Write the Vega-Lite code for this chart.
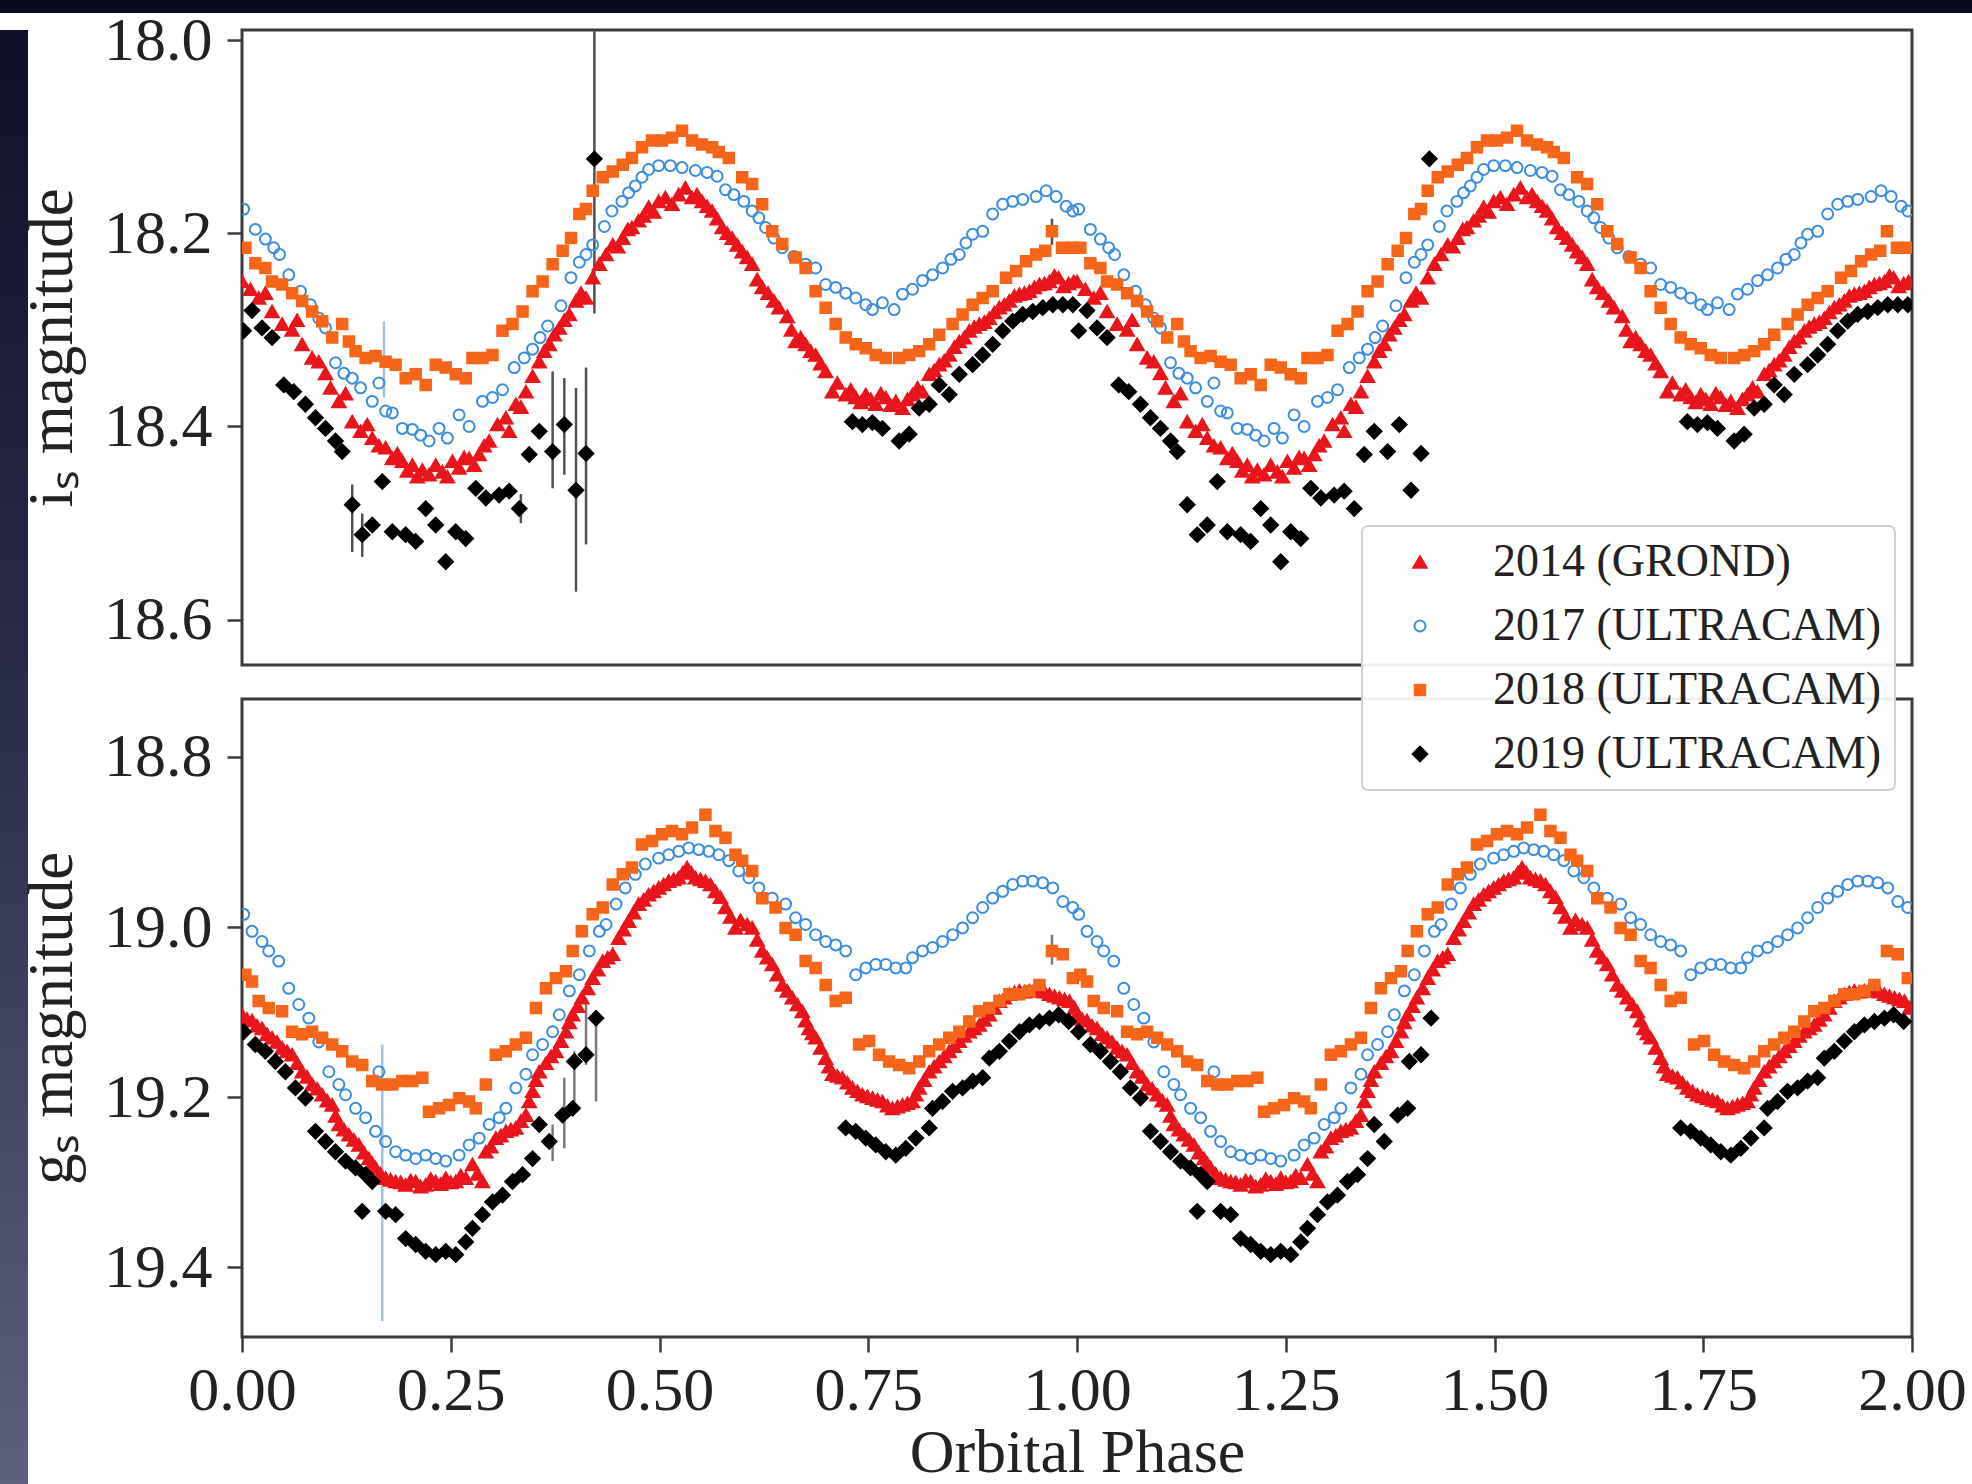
{
"$schema":"https://vega.github.io/schema/vega-lite/v6.json",
"background":"white",
"padding":0,
"spacing":0,
"config":{
 "font":"Liberation Serif",
 "view":{"stroke":"#3a3a3a","strokeWidth":3},
 "axis":{"labelFont":"Liberation Serif","titleFont":"Liberation Serif","labelFontSize":62,"titleFontSize":63,"labelColor":"#222222","titleColor":"#222222","titleFontWeight":"normal","domain":false,"grid":false,"tickColor":"#3a3a3a","tickWidth":2.5,"tickSize":15,"labelFlush":false,"labelOverlap":false},
 "legend":{"orient":"none","legendX":1362,"legendY":526,"labelFont":"Liberation Serif","labelFontSize":46,"labelColor":"#222222","labelLimit":600,"fillColor":"rgba(255,255,255,0.92)","strokeColor":"#cfcfcf","strokeWidth":2,"cornerRadius":6,"padding":13,"rowPadding":18,"symbolOffset":22,"labelOffset":50,"symbolStrokeWidth":2,"zindex":1}
},
"datasets":{
"ie":[{"s":"19","p":0.422,"lo":17.96,"hi":18.283},{"s":"19","p":0.372,"lo":18.343,"hi":18.464},{"s":"19","p":0.386,"lo":18.35,"hi":18.45},{"s":"19","p":0.4,"lo":18.36,"hi":18.571},{"s":"19","p":0.412,"lo":18.339,"hi":18.522},{"s":"19","p":0.132,"lo":18.46,"hi":18.53},{"s":"19","p":0.144,"lo":18.49,"hi":18.535},{"s":"19","p":0.334,"lo":18.47,"hi":18.5},{"s":"17","p":0.17,"lo":18.291,"hi":18.37},{"s":"18","p":0.97,"lo":18.185,"hi":18.212}],
"ge":[{"s":"17","p":0.168,"lo":19.138,"hi":19.463},{"s":"19","p":0.372,"lo":19.232,"hi":19.275},{"s":"19","p":0.386,"lo":19.177,"hi":19.26},{"s":"19","p":0.398,"lo":19.146,"hi":19.213},{"s":"19","p":0.412,"lo":19.083,"hi":19.162},{"s":"19","p":0.424,"lo":19.107,"hi":19.205},{"s":"18","p":0.97,"lo":19.009,"hi":19.044}],
"i":[
{"s":"14","p":0,"m":18.25},{"s":"14","p":0.01,"m":18.258},{"s":"14","p":0.02,"m":18.267},{"s":"14","p":0.028,"m":18.262},{"s":"14","p":0.036,"m":18.281},{"s":"14","p":0.048,"m":18.294},{"s":"14","p":0.06,"m":18.3},{"s":"14","p":0.066,"m":18.29},{"s":"14","p":0.072,"m":18.315},{"s":"14","p":0.084,"m":18.329},{"s":"14","p":0.092,"m":18.333},{"s":"14","p":0.1,"m":18.345},{"s":"14","p":0.106,"m":18.36},{"s":"14","p":0.116,"m":18.374},{"s":"14","p":0.124,"m":18.366},{"s":"14","p":0.132,"m":18.395},{"s":"14","p":0.142,"m":18.405},{"s":"14","p":0.15,"m":18.398},{"s":"14","p":0.156,"m":18.412},{"s":"14","p":0.164,"m":18.42},{"s":"14","p":0.172,"m":18.422},{"s":"14","p":0.18,"m":18.433},{"s":"14","p":0.186,"m":18.428},{"s":"14","p":0.192,"m":18.436},{"s":"14","p":0.198,"m":18.446},{"s":"14","p":0.204,"m":18.44},{"s":"14","p":0.21,"m":18.452},{"s":"14","p":0.216,"m":18.445},{"s":"14","p":0.224,"m":18.45},{"s":"14","p":0.232,"m":18.44},{"s":"14","p":0.24,"m":18.447},{"s":"14","p":0.246,"m":18.452},{"s":"14","p":0.252,"m":18.436},{"s":"14","p":0.26,"m":18.443},{"s":"14","p":0.266,"m":18.432},{"s":"14","p":0.272,"m":18.433},{"s":"14","p":0.278,"m":18.44},{"s":"14","p":0.284,"m":18.429},{"s":"14","p":0.29,"m":18.42},{"s":"14","p":0.296,"m":18.415},{"s":"14","p":0.306,"m":18.398},{"s":"14","p":0.316,"m":18.391},{"s":"14","p":0.32,"m":18.405},{"s":"14","p":0.328,"m":18.377},{"s":"14","p":0.334,"m":18.38},{"s":"14","p":0.34,"m":18.364},{"s":"14","p":0.348,"m":18.348},{"s":"14","p":0.356,"m":18.333},{"s":"14","p":0.362,"m":18.322},{"s":"14","p":0.368,"m":18.315},{"s":"14","p":0.374,"m":18.305},{"s":"14","p":0.38,"m":18.298},{"s":"14","p":0.386,"m":18.29},{"s":"14","p":0.392,"m":18.284},{"s":"14","p":0.4,"m":18.27},{"s":"14","p":0.406,"m":18.262},{"s":"14","p":0.412,"m":18.267},{"s":"14","p":0.42,"m":18.246},{"s":"14","p":0.428,"m":18.232},{"s":"14","p":0.436,"m":18.222},{"s":"14","p":0.444,"m":18.212},{"s":"14","p":0.45,"m":18.214},{"s":"14","p":0.456,"m":18.205},{"s":"14","p":0.462,"m":18.196},{"s":"14","p":0.467,"m":18.194},{"s":"14","p":0.475,"m":18.187},{"s":"14","p":0.481,"m":18.182},{"s":"14","p":0.487,"m":18.173},{"s":"14","p":0.493,"m":18.178},{"s":"14","p":0.499,"m":18.167},{"s":"14","p":0.507,"m":18.163},{"s":"14","p":0.515,"m":18.17},{"s":"14","p":0.523,"m":18.16},{"s":"14","p":0.531,"m":18.153},{"s":"14","p":0.539,"m":18.163},{"s":"14","p":0.545,"m":18.16},{"s":"14","p":0.551,"m":18.167},{"s":"14","p":0.557,"m":18.172},{"s":"14","p":0.563,"m":18.177},{"s":"14","p":0.569,"m":18.185},{"s":"14","p":0.575,"m":18.194},{"s":"14","p":0.581,"m":18.2},{"s":"14","p":0.587,"m":18.205},{"s":"14","p":0.593,"m":18.212},{"s":"14","p":0.599,"m":18.219},{"s":"14","p":0.605,"m":18.225},{"s":"14","p":0.611,"m":18.232},{"s":"14","p":0.617,"m":18.248},{"s":"14","p":0.623,"m":18.256},{"s":"14","p":0.63,"m":18.262},{"s":"14","p":0.637,"m":18.27},{"s":"14","p":0.643,"m":18.277},{"s":"14","p":0.653,"m":18.286},{"s":"14","p":0.658,"m":18.3},{"s":"14","p":0.663,"m":18.312},{"s":"14","p":0.669,"m":18.308},{"s":"14","p":0.675,"m":18.315},{"s":"14","p":0.681,"m":18.322},{"s":"14","p":0.687,"m":18.326},{"s":"14","p":0.693,"m":18.335},{"s":"14","p":0.699,"m":18.343},{"s":"14","p":0.707,"m":18.364},{"s":"14","p":0.713,"m":18.355},{"s":"14","p":0.723,"m":18.367},{"s":"14","p":0.729,"m":18.362},{"s":"14","p":0.735,"m":18.37},{"s":"14","p":0.741,"m":18.375},{"s":"14","p":0.747,"m":18.367},{"s":"14","p":0.753,"m":18.372},{"s":"14","p":0.759,"m":18.377},{"s":"14","p":0.765,"m":18.366},{"s":"14","p":0.771,"m":18.37},{"s":"14","p":0.777,"m":18.378},{"s":"14","p":0.783,"m":18.374},{"s":"14","p":0.791,"m":18.381},{"s":"14","p":0.797,"m":18.372},{"s":"14","p":0.803,"m":18.367},{"s":"14","p":0.809,"m":18.36},{"s":"14","p":0.815,"m":18.364},{"s":"14","p":0.823,"m":18.346},{"s":"14","p":0.829,"m":18.342},{"s":"14","p":0.835,"m":18.336},{"s":"14","p":0.841,"m":18.332},{"s":"14","p":0.847,"m":18.326},{"s":"14","p":0.853,"m":18.318},{"s":"14","p":0.859,"m":18.312},{"s":"14","p":0.865,"m":18.308},{"s":"14","p":0.871,"m":18.301},{"s":"14","p":0.877,"m":18.297},{"s":"14","p":0.883,"m":18.294},{"s":"14","p":0.889,"m":18.292},{"s":"14","p":0.895,"m":18.288},{"s":"14","p":0.901,"m":18.282},{"s":"14","p":0.907,"m":18.277},{"s":"14","p":0.913,"m":18.274},{"s":"14","p":0.919,"m":18.27},{"s":"14","p":0.925,"m":18.265},{"s":"14","p":0.931,"m":18.263},{"s":"14","p":0.937,"m":18.262},{"s":"14","p":0.943,"m":18.26},{"s":"14","p":0.949,"m":18.256},{"s":"14","p":0.955,"m":18.253},{"s":"14","p":0.961,"m":18.252},{"s":"14","p":0.967,"m":18.25},{"s":"14","p":0.973,"m":18.244},{"s":"14","p":0.978,"m":18.246},{"s":"14","p":0.984,"m":18.255},{"s":"14","p":0.99,"m":18.252},{"s":"14","p":0.996,"m":18.25},
{"s":"14","p":1,"m":18.25},{"s":"14","p":1.01,"m":18.258},{"s":"14","p":1.02,"m":18.267},{"s":"14","p":1.028,"m":18.262},{"s":"14","p":1.036,"m":18.281},{"s":"14","p":1.048,"m":18.294},{"s":"14","p":1.06,"m":18.3},{"s":"14","p":1.066,"m":18.29},{"s":"14","p":1.072,"m":18.315},{"s":"14","p":1.084,"m":18.329},{"s":"14","p":1.092,"m":18.333},{"s":"14","p":1.1,"m":18.345},{"s":"14","p":1.106,"m":18.36},{"s":"14","p":1.116,"m":18.374},{"s":"14","p":1.124,"m":18.366},{"s":"14","p":1.132,"m":18.395},{"s":"14","p":1.142,"m":18.405},{"s":"14","p":1.15,"m":18.398},{"s":"14","p":1.156,"m":18.412},{"s":"14","p":1.164,"m":18.42},{"s":"14","p":1.172,"m":18.422},{"s":"14","p":1.18,"m":18.433},{"s":"14","p":1.186,"m":18.428},{"s":"14","p":1.192,"m":18.436},{"s":"14","p":1.198,"m":18.446},{"s":"14","p":1.204,"m":18.44},{"s":"14","p":1.21,"m":18.452},{"s":"14","p":1.216,"m":18.445},{"s":"14","p":1.224,"m":18.45},{"s":"14","p":1.232,"m":18.44},{"s":"14","p":1.24,"m":18.447},{"s":"14","p":1.246,"m":18.452},{"s":"14","p":1.252,"m":18.436},{"s":"14","p":1.26,"m":18.443},{"s":"14","p":1.266,"m":18.432},{"s":"14","p":1.272,"m":18.433},{"s":"14","p":1.278,"m":18.44},{"s":"14","p":1.284,"m":18.429},{"s":"14","p":1.29,"m":18.42},{"s":"14","p":1.296,"m":18.415},{"s":"14","p":1.306,"m":18.398},{"s":"14","p":1.316,"m":18.391},{"s":"14","p":1.32,"m":18.405},{"s":"14","p":1.328,"m":18.377},{"s":"14","p":1.334,"m":18.38},{"s":"14","p":1.34,"m":18.364},{"s":"14","p":1.348,"m":18.348},{"s":"14","p":1.356,"m":18.333},{"s":"14","p":1.362,"m":18.322},{"s":"14","p":1.368,"m":18.315},{"s":"14","p":1.374,"m":18.305},{"s":"14","p":1.38,"m":18.298},{"s":"14","p":1.386,"m":18.29},{"s":"14","p":1.392,"m":18.284},{"s":"14","p":1.4,"m":18.27},{"s":"14","p":1.406,"m":18.262},{"s":"14","p":1.412,"m":18.267},{"s":"14","p":1.42,"m":18.246},{"s":"14","p":1.428,"m":18.232},{"s":"14","p":1.436,"m":18.222},{"s":"14","p":1.444,"m":18.212},{"s":"14","p":1.45,"m":18.214},{"s":"14","p":1.456,"m":18.205},{"s":"14","p":1.462,"m":18.196},{"s":"14","p":1.467,"m":18.194},{"s":"14","p":1.475,"m":18.187},{"s":"14","p":1.481,"m":18.182},{"s":"14","p":1.487,"m":18.173},{"s":"14","p":1.493,"m":18.178},{"s":"14","p":1.499,"m":18.167},{"s":"14","p":1.507,"m":18.163},{"s":"14","p":1.515,"m":18.17},{"s":"14","p":1.523,"m":18.16},{"s":"14","p":1.531,"m":18.153},{"s":"14","p":1.539,"m":18.163},{"s":"14","p":1.545,"m":18.16},{"s":"14","p":1.551,"m":18.167},{"s":"14","p":1.557,"m":18.172},{"s":"14","p":1.563,"m":18.177},{"s":"14","p":1.569,"m":18.185},{"s":"14","p":1.575,"m":18.194},{"s":"14","p":1.581,"m":18.2},{"s":"14","p":1.587,"m":18.205},{"s":"14","p":1.593,"m":18.212},{"s":"14","p":1.599,"m":18.219},{"s":"14","p":1.605,"m":18.225},{"s":"14","p":1.611,"m":18.232},{"s":"14","p":1.617,"m":18.248},{"s":"14","p":1.623,"m":18.256},{"s":"14","p":1.63,"m":18.262},{"s":"14","p":1.637,"m":18.27},{"s":"14","p":1.643,"m":18.277},{"s":"14","p":1.653,"m":18.286},{"s":"14","p":1.658,"m":18.3},{"s":"14","p":1.663,"m":18.312},{"s":"14","p":1.669,"m":18.308},{"s":"14","p":1.675,"m":18.315},{"s":"14","p":1.681,"m":18.322},{"s":"14","p":1.687,"m":18.326},{"s":"14","p":1.693,"m":18.335},{"s":"14","p":1.699,"m":18.343},{"s":"14","p":1.707,"m":18.364},{"s":"14","p":1.713,"m":18.355},{"s":"14","p":1.723,"m":18.367},{"s":"14","p":1.729,"m":18.362},{"s":"14","p":1.735,"m":18.37},{"s":"14","p":1.741,"m":18.375},{"s":"14","p":1.747,"m":18.367},{"s":"14","p":1.753,"m":18.372},{"s":"14","p":1.759,"m":18.377},{"s":"14","p":1.765,"m":18.366},{"s":"14","p":1.771,"m":18.37},{"s":"14","p":1.777,"m":18.378},{"s":"14","p":1.783,"m":18.374},{"s":"14","p":1.791,"m":18.381},{"s":"14","p":1.797,"m":18.372},{"s":"14","p":1.803,"m":18.367},{"s":"14","p":1.809,"m":18.36},{"s":"14","p":1.815,"m":18.364},{"s":"14","p":1.823,"m":18.346},{"s":"14","p":1.829,"m":18.342},{"s":"14","p":1.835,"m":18.336},{"s":"14","p":1.841,"m":18.332},{"s":"14","p":1.847,"m":18.326},{"s":"14","p":1.853,"m":18.318},{"s":"14","p":1.859,"m":18.312},{"s":"14","p":1.865,"m":18.308},{"s":"14","p":1.871,"m":18.301},{"s":"14","p":1.877,"m":18.297},{"s":"14","p":1.883,"m":18.294},{"s":"14","p":1.889,"m":18.292},{"s":"14","p":1.895,"m":18.288},{"s":"14","p":1.901,"m":18.282},{"s":"14","p":1.907,"m":18.277},{"s":"14","p":1.913,"m":18.274},{"s":"14","p":1.919,"m":18.27},{"s":"14","p":1.925,"m":18.265},{"s":"14","p":1.931,"m":18.263},{"s":"14","p":1.937,"m":18.262},{"s":"14","p":1.943,"m":18.26},{"s":"14","p":1.949,"m":18.256},{"s":"14","p":1.955,"m":18.253},{"s":"14","p":1.961,"m":18.252},{"s":"14","p":1.967,"m":18.25},{"s":"14","p":1.973,"m":18.244},{"s":"14","p":1.978,"m":18.246},{"s":"14","p":1.984,"m":18.255},{"s":"14","p":1.99,"m":18.252},{"s":"14","p":1.996,"m":18.25},
{"s":"17","p":0.002,"m":18.175},{"s":"17","p":0.016,"m":18.196},{"s":"17","p":0.028,"m":18.206},{"s":"17","p":0.038,"m":18.215},{"s":"17","p":0.045,"m":18.222},{"s":"17","p":0.056,"m":18.243},{"s":"17","p":0.07,"m":18.26},{"s":"17","p":0.082,"m":18.274},{"s":"17","p":0.092,"m":18.288},{"s":"17","p":0.1,"m":18.298},{"s":"17","p":0.112,"m":18.334},{"s":"17","p":0.122,"m":18.345},{"s":"17","p":0.132,"m":18.35},{"s":"17","p":0.142,"m":18.36},{"s":"17","p":0.156,"m":18.374},{"s":"17","p":0.164,"m":18.355},{"s":"17","p":0.172,"m":18.384},{"s":"17","p":0.18,"m":18.386},{"s":"17","p":0.192,"m":18.402},{"s":"17","p":0.204,"m":18.403},{"s":"17","p":0.214,"m":18.409},{"s":"17","p":0.224,"m":18.415},{"s":"17","p":0.236,"m":18.402},{"s":"17","p":0.246,"m":18.412},{"s":"17","p":0.26,"m":18.388},{"s":"17","p":0.272,"m":18.4},{"s":"17","p":0.288,"m":18.374},{"s":"17","p":0.3,"m":18.37},{"s":"17","p":0.312,"m":18.362},{"s":"17","p":0.326,"m":18.339},{"s":"17","p":0.338,"m":18.329},{"s":"17","p":0.348,"m":18.32},{"s":"17","p":0.357,"m":18.308},{"s":"17","p":0.366,"m":18.296},{"s":"17","p":0.382,"m":18.275},{"s":"17","p":0.394,"m":18.246},{"s":"17","p":0.404,"m":18.23},{"s":"17","p":0.412,"m":18.222},{"s":"17","p":0.42,"m":18.212},{"s":"17","p":0.434,"m":18.193},{"s":"17","p":0.443,"m":18.177},{"s":"17","p":0.455,"m":18.167},{"s":"17","p":0.463,"m":18.158},{"s":"17","p":0.471,"m":18.151},{"s":"17","p":0.479,"m":18.142},{"s":"17","p":0.487,"m":18.134},{"s":"17","p":0.499,"m":18.13},{"s":"17","p":0.513,"m":18.13},{"s":"17","p":0.527,"m":18.132},{"s":"17","p":0.543,"m":18.135},{"s":"17","p":0.557,"m":18.137},{"s":"17","p":0.569,"m":18.141},{"s":"17","p":0.579,"m":18.155},{"s":"17","p":0.589,"m":18.16},{"s":"17","p":0.601,"m":18.167},{"s":"17","p":0.611,"m":18.177},{"s":"17","p":0.619,"m":18.184},{"s":"17","p":0.627,"m":18.194},{"s":"17","p":0.637,"m":18.205},{"s":"17","p":0.647,"m":18.215},{"s":"17","p":0.661,"m":18.224},{"s":"17","p":0.675,"m":18.232},{"s":"17","p":0.687,"m":18.236},{"s":"17","p":0.699,"m":18.253},{"s":"17","p":0.711,"m":18.256},{"s":"17","p":0.723,"m":18.262},{"s":"17","p":0.735,"m":18.267},{"s":"17","p":0.747,"m":18.274},{"s":"17","p":0.755,"m":18.279},{"s":"17","p":0.767,"m":18.272},{"s":"17","p":0.781,"m":18.279},{"s":"17","p":0.791,"m":18.263},{"s":"17","p":0.803,"m":18.258},{"s":"17","p":0.815,"m":18.249},{"s":"17","p":0.827,"m":18.243},{"s":"17","p":0.839,"m":18.236},{"s":"17","p":0.849,"m":18.227},{"s":"17","p":0.859,"m":18.222},{"s":"17","p":0.867,"m":18.21},{"s":"17","p":0.875,"m":18.201},{"s":"17","p":0.887,"m":18.198},{"s":"17","p":0.899,"m":18.18},{"s":"17","p":0.911,"m":18.17},{"s":"17","p":0.923,"m":18.167},{"s":"17","p":0.935,"m":18.165},{"s":"17","p":0.951,"m":18.162},{"s":"17","p":0.963,"m":18.156},{"s":"17","p":0.975,"m":18.162},{"s":"17","p":0.987,"m":18.172},{"s":"17","p":0.995,"m":18.177},
{"s":"17","p":1.002,"m":18.175},{"s":"17","p":1.016,"m":18.196},{"s":"17","p":1.028,"m":18.206},{"s":"17","p":1.038,"m":18.215},{"s":"17","p":1.045,"m":18.222},{"s":"17","p":1.056,"m":18.243},{"s":"17","p":1.07,"m":18.26},{"s":"17","p":1.082,"m":18.274},{"s":"17","p":1.092,"m":18.288},{"s":"17","p":1.1,"m":18.298},{"s":"17","p":1.112,"m":18.334},{"s":"17","p":1.122,"m":18.345},{"s":"17","p":1.132,"m":18.35},{"s":"17","p":1.142,"m":18.36},{"s":"17","p":1.156,"m":18.374},{"s":"17","p":1.164,"m":18.355},{"s":"17","p":1.172,"m":18.384},{"s":"17","p":1.18,"m":18.386},{"s":"17","p":1.192,"m":18.402},{"s":"17","p":1.204,"m":18.403},{"s":"17","p":1.214,"m":18.409},{"s":"17","p":1.224,"m":18.415},{"s":"17","p":1.236,"m":18.402},{"s":"17","p":1.246,"m":18.412},{"s":"17","p":1.26,"m":18.388},{"s":"17","p":1.272,"m":18.4},{"s":"17","p":1.288,"m":18.374},{"s":"17","p":1.3,"m":18.37},{"s":"17","p":1.312,"m":18.362},{"s":"17","p":1.326,"m":18.339},{"s":"17","p":1.338,"m":18.329},{"s":"17","p":1.348,"m":18.32},{"s":"17","p":1.357,"m":18.308},{"s":"17","p":1.366,"m":18.296},{"s":"17","p":1.382,"m":18.275},{"s":"17","p":1.394,"m":18.246},{"s":"17","p":1.404,"m":18.23},{"s":"17","p":1.412,"m":18.222},{"s":"17","p":1.42,"m":18.212},{"s":"17","p":1.434,"m":18.193},{"s":"17","p":1.443,"m":18.177},{"s":"17","p":1.455,"m":18.167},{"s":"17","p":1.463,"m":18.158},{"s":"17","p":1.471,"m":18.151},{"s":"17","p":1.479,"m":18.142},{"s":"17","p":1.487,"m":18.134},{"s":"17","p":1.499,"m":18.13},{"s":"17","p":1.513,"m":18.13},{"s":"17","p":1.527,"m":18.132},{"s":"17","p":1.543,"m":18.135},{"s":"17","p":1.557,"m":18.137},{"s":"17","p":1.569,"m":18.141},{"s":"17","p":1.579,"m":18.155},{"s":"17","p":1.589,"m":18.16},{"s":"17","p":1.601,"m":18.167},{"s":"17","p":1.611,"m":18.177},{"s":"17","p":1.619,"m":18.184},{"s":"17","p":1.627,"m":18.194},{"s":"17","p":1.637,"m":18.205},{"s":"17","p":1.647,"m":18.215},{"s":"17","p":1.661,"m":18.224},{"s":"17","p":1.675,"m":18.232},{"s":"17","p":1.687,"m":18.236},{"s":"17","p":1.699,"m":18.253},{"s":"17","p":1.711,"m":18.256},{"s":"17","p":1.723,"m":18.262},{"s":"17","p":1.735,"m":18.267},{"s":"17","p":1.747,"m":18.274},{"s":"17","p":1.755,"m":18.279},{"s":"17","p":1.767,"m":18.272},{"s":"17","p":1.781,"m":18.279},{"s":"17","p":1.791,"m":18.263},{"s":"17","p":1.803,"m":18.258},{"s":"17","p":1.815,"m":18.249},{"s":"17","p":1.827,"m":18.243},{"s":"17","p":1.839,"m":18.236},{"s":"17","p":1.849,"m":18.227},{"s":"17","p":1.859,"m":18.222},{"s":"17","p":1.867,"m":18.21},{"s":"17","p":1.875,"m":18.201},{"s":"17","p":1.887,"m":18.198},{"s":"17","p":1.899,"m":18.18},{"s":"17","p":1.911,"m":18.17},{"s":"17","p":1.923,"m":18.167},{"s":"17","p":1.935,"m":18.165},{"s":"17","p":1.951,"m":18.162},{"s":"17","p":1.963,"m":18.156},{"s":"17","p":1.975,"m":18.162},{"s":"17","p":1.987,"m":18.172},{"s":"17","p":1.995,"m":18.177},
{"s":"18","p":0.004,"m":18.215},{"s":"18","p":0.016,"m":18.231},{"s":"18","p":0.028,"m":18.236},{"s":"18","p":0.036,"m":18.25},{"s":"18","p":0.048,"m":18.253},{"s":"18","p":0.06,"m":18.262},{"s":"18","p":0.072,"m":18.27},{"s":"18","p":0.084,"m":18.281},{"s":"18","p":0.096,"m":18.291},{"s":"18","p":0.108,"m":18.308},{"s":"18","p":0.12,"m":18.294},{"s":"18","p":0.128,"m":18.312},{"s":"18","p":0.136,"m":18.322},{"s":"18","p":0.148,"m":18.329},{"s":"18","p":0.16,"m":18.327},{"s":"18","p":0.172,"m":18.333},{"s":"18","p":0.184,"m":18.336},{"s":"18","p":0.196,"m":18.35},{"s":"18","p":0.208,"m":18.346},{"s":"18","p":0.22,"m":18.357},{"s":"18","p":0.232,"m":18.336},{"s":"18","p":0.244,"m":18.339},{"s":"18","p":0.256,"m":18.346},{"s":"18","p":0.268,"m":18.35},{"s":"18","p":0.276,"m":18.329},{"s":"18","p":0.288,"m":18.329},{"s":"18","p":0.3,"m":18.326},{"s":"18","p":0.312,"m":18.301},{"s":"18","p":0.324,"m":18.294},{"s":"18","p":0.336,"m":18.281},{"s":"18","p":0.348,"m":18.26},{"s":"18","p":0.36,"m":18.25},{"s":"18","p":0.372,"m":18.232},{"s":"18","p":0.384,"m":18.218},{"s":"18","p":0.394,"m":18.205},{"s":"18","p":0.404,"m":18.18},{"s":"18","p":0.412,"m":18.175},{"s":"18","p":0.42,"m":18.156},{"s":"18","p":0.432,"m":18.142},{"s":"18","p":0.444,"m":18.136},{"s":"18","p":0.456,"m":18.129},{"s":"18","p":0.467,"m":18.122},{"s":"18","p":0.479,"m":18.111},{"s":"18","p":0.491,"m":18.104},{"s":"18","p":0.503,"m":18.104},{"s":"18","p":0.515,"m":18.101},{"s":"18","p":0.527,"m":18.094},{"s":"18","p":0.539,"m":18.104},{"s":"18","p":0.551,"m":18.108},{"s":"18","p":0.563,"m":18.111},{"s":"18","p":0.571,"m":18.116},{"s":"18","p":0.583,"m":18.122},{"s":"18","p":0.599,"m":18.142},{"s":"18","p":0.611,"m":18.149},{"s":"18","p":0.623,"m":18.17},{"s":"18","p":0.635,"m":18.198},{"s":"18","p":0.647,"m":18.211},{"s":"18","p":0.663,"m":18.225},{"s":"18","p":0.675,"m":18.236},{"s":"18","p":0.687,"m":18.26},{"s":"18","p":0.699,"m":18.277},{"s":"18","p":0.711,"m":18.294},{"s":"18","p":0.723,"m":18.308},{"s":"18","p":0.735,"m":18.315},{"s":"18","p":0.747,"m":18.319},{"s":"18","p":0.759,"m":18.326},{"s":"18","p":0.771,"m":18.329},{"s":"18","p":0.787,"m":18.329},{"s":"18","p":0.799,"m":18.326},{"s":"18","p":0.811,"m":18.322},{"s":"18","p":0.823,"m":18.315},{"s":"18","p":0.835,"m":18.305},{"s":"18","p":0.851,"m":18.294},{"s":"18","p":0.863,"m":18.284},{"s":"18","p":0.875,"m":18.274},{"s":"18","p":0.887,"m":18.267},{"s":"18","p":0.899,"m":18.26},{"s":"18","p":0.915,"m":18.246},{"s":"18","p":0.927,"m":18.239},{"s":"18","p":0.939,"m":18.229},{"s":"18","p":0.951,"m":18.222},{"s":"18","p":0.962,"m":18.218},{"s":"18","p":0.97,"m":18.198},{"s":"18","p":0.982,"m":18.215},{"s":"18","p":0.994,"m":18.215},
{"s":"18","p":1.004,"m":18.215},{"s":"18","p":1.016,"m":18.231},{"s":"18","p":1.028,"m":18.236},{"s":"18","p":1.036,"m":18.25},{"s":"18","p":1.048,"m":18.253},{"s":"18","p":1.06,"m":18.262},{"s":"18","p":1.072,"m":18.27},{"s":"18","p":1.084,"m":18.281},{"s":"18","p":1.096,"m":18.291},{"s":"18","p":1.108,"m":18.308},{"s":"18","p":1.12,"m":18.294},{"s":"18","p":1.128,"m":18.312},{"s":"18","p":1.136,"m":18.322},{"s":"18","p":1.148,"m":18.329},{"s":"18","p":1.16,"m":18.327},{"s":"18","p":1.172,"m":18.333},{"s":"18","p":1.184,"m":18.336},{"s":"18","p":1.196,"m":18.35},{"s":"18","p":1.208,"m":18.346},{"s":"18","p":1.22,"m":18.357},{"s":"18","p":1.232,"m":18.336},{"s":"18","p":1.244,"m":18.339},{"s":"18","p":1.256,"m":18.346},{"s":"18","p":1.268,"m":18.35},{"s":"18","p":1.276,"m":18.329},{"s":"18","p":1.288,"m":18.329},{"s":"18","p":1.3,"m":18.326},{"s":"18","p":1.312,"m":18.301},{"s":"18","p":1.324,"m":18.294},{"s":"18","p":1.336,"m":18.281},{"s":"18","p":1.348,"m":18.26},{"s":"18","p":1.36,"m":18.25},{"s":"18","p":1.372,"m":18.232},{"s":"18","p":1.384,"m":18.218},{"s":"18","p":1.394,"m":18.205},{"s":"18","p":1.404,"m":18.18},{"s":"18","p":1.412,"m":18.175},{"s":"18","p":1.42,"m":18.156},{"s":"18","p":1.432,"m":18.142},{"s":"18","p":1.444,"m":18.136},{"s":"18","p":1.456,"m":18.129},{"s":"18","p":1.467,"m":18.122},{"s":"18","p":1.479,"m":18.111},{"s":"18","p":1.491,"m":18.104},{"s":"18","p":1.503,"m":18.104},{"s":"18","p":1.515,"m":18.101},{"s":"18","p":1.527,"m":18.094},{"s":"18","p":1.539,"m":18.104},{"s":"18","p":1.551,"m":18.108},{"s":"18","p":1.563,"m":18.111},{"s":"18","p":1.571,"m":18.116},{"s":"18","p":1.583,"m":18.122},{"s":"18","p":1.599,"m":18.142},{"s":"18","p":1.611,"m":18.149},{"s":"18","p":1.623,"m":18.17},{"s":"18","p":1.635,"m":18.198},{"s":"18","p":1.647,"m":18.211},{"s":"18","p":1.663,"m":18.225},{"s":"18","p":1.675,"m":18.236},{"s":"18","p":1.687,"m":18.26},{"s":"18","p":1.699,"m":18.277},{"s":"18","p":1.711,"m":18.294},{"s":"18","p":1.723,"m":18.308},{"s":"18","p":1.735,"m":18.315},{"s":"18","p":1.747,"m":18.319},{"s":"18","p":1.759,"m":18.326},{"s":"18","p":1.771,"m":18.329},{"s":"18","p":1.787,"m":18.329},{"s":"18","p":1.799,"m":18.326},{"s":"18","p":1.811,"m":18.322},{"s":"18","p":1.823,"m":18.315},{"s":"18","p":1.835,"m":18.305},{"s":"18","p":1.851,"m":18.294},{"s":"18","p":1.863,"m":18.284},{"s":"18","p":1.875,"m":18.274},{"s":"18","p":1.887,"m":18.267},{"s":"18","p":1.899,"m":18.26},{"s":"18","p":1.915,"m":18.246},{"s":"18","p":1.927,"m":18.239},{"s":"18","p":1.939,"m":18.229},{"s":"18","p":1.951,"m":18.222},{"s":"18","p":1.962,"m":18.218},{"s":"18","p":1.97,"m":18.198},{"s":"18","p":1.982,"m":18.215},{"s":"18","p":1.994,"m":18.215},
{"s":"19","p":0.002,"m":18.301},{"s":"19","p":0.012,"m":18.28},{"s":"19","p":0.024,"m":18.298},{"s":"19","p":0.036,"m":18.308},{"s":"19","p":0.05,"m":18.357},{"s":"19","p":0.062,"m":18.364},{"s":"19","p":0.076,"m":18.377},{"s":"19","p":0.088,"m":18.391},{"s":"19","p":0.1,"m":18.402},{"s":"19","p":0.112,"m":18.415},{"s":"19","p":0.12,"m":18.426},{"s":"19","p":0.132,"m":18.481},{"s":"19","p":0.144,"m":18.512},{"s":"19","p":0.156,"m":18.502},{"s":"19","p":0.168,"m":18.457},{"s":"19","p":0.18,"m":18.509},{"s":"19","p":0.196,"m":18.512},{"s":"19","p":0.208,"m":18.519},{"s":"19","p":0.22,"m":18.485},{"s":"19","p":0.232,"m":18.502},{"s":"19","p":0.244,"m":18.54},{"s":"19","p":0.256,"m":18.509},{"s":"19","p":0.268,"m":18.516},{"s":"19","p":0.28,"m":18.464},{"s":"19","p":0.292,"m":18.474},{"s":"19","p":0.308,"m":18.471},{"s":"19","p":0.32,"m":18.467},{"s":"19","p":0.332,"m":18.485},{"s":"19","p":0.344,"m":18.429},{"s":"19","p":0.356,"m":18.405},{"s":"19","p":0.372,"m":18.426},{"s":"19","p":0.386,"m":18.398},{"s":"19","p":0.4,"m":18.466},{"s":"19","p":0.412,"m":18.428},{"s":"19","p":0.422,"m":18.123},
{"s":"19","p":0.731,"m":18.395},{"s":"19","p":0.743,"m":18.398},{"s":"19","p":0.755,"m":18.396},{"s":"19","p":0.767,"m":18.402},{"s":"19","p":0.787,"m":18.415},{"s":"19","p":0.799,"m":18.408},{"s":"19","p":0.811,"m":18.381},{"s":"19","p":0.823,"m":18.377},{"s":"19","p":0.835,"m":18.357},{"s":"19","p":0.847,"m":18.367},{"s":"19","p":0.859,"m":18.346},{"s":"19","p":0.875,"m":18.336},{"s":"19","p":0.887,"m":18.326},{"s":"19","p":0.899,"m":18.315},{"s":"19","p":0.911,"m":18.301},{"s":"19","p":0.923,"m":18.291},{"s":"19","p":0.935,"m":18.284},{"s":"19","p":0.947,"m":18.281},{"s":"19","p":0.959,"m":18.277},{"s":"19","p":0.971,"m":18.274},{"s":"19","p":0.983,"m":18.274},{"s":"19","p":0.995,"m":18.274},
{"s":"19","p":1.002,"m":18.301},{"s":"19","p":1.012,"m":18.28},{"s":"19","p":1.024,"m":18.298},{"s":"19","p":1.036,"m":18.308},{"s":"19","p":1.05,"m":18.357},{"s":"19","p":1.062,"m":18.364},{"s":"19","p":1.076,"m":18.377},{"s":"19","p":1.088,"m":18.391},{"s":"19","p":1.1,"m":18.402},{"s":"19","p":1.112,"m":18.415},{"s":"19","p":1.12,"m":18.426},{"s":"19","p":1.132,"m":18.481},{"s":"19","p":1.144,"m":18.512},{"s":"19","p":1.156,"m":18.502},{"s":"19","p":1.168,"m":18.457},{"s":"19","p":1.18,"m":18.509},{"s":"19","p":1.196,"m":18.512},{"s":"19","p":1.208,"m":18.519},{"s":"19","p":1.22,"m":18.485},{"s":"19","p":1.232,"m":18.502},{"s":"19","p":1.244,"m":18.54},{"s":"19","p":1.256,"m":18.509},{"s":"19","p":1.268,"m":18.516},{"s":"19","p":1.28,"m":18.464},{"s":"19","p":1.292,"m":18.474},{"s":"19","p":1.308,"m":18.471},{"s":"19","p":1.32,"m":18.467},{"s":"19","p":1.332,"m":18.485},{"s":"19","p":1.344,"m":18.429},{"s":"19","p":1.356,"m":18.405},{"s":"19","p":1.372,"m":18.426},{"s":"19","p":1.386,"m":18.398},{"s":"19","p":1.4,"m":18.466},{"s":"19","p":1.412,"m":18.428},{"s":"19","p":1.422,"m":18.123},
{"s":"19","p":1.731,"m":18.395},{"s":"19","p":1.743,"m":18.398},{"s":"19","p":1.755,"m":18.396},{"s":"19","p":1.767,"m":18.402},{"s":"19","p":1.787,"m":18.415},{"s":"19","p":1.799,"m":18.408},{"s":"19","p":1.811,"m":18.381},{"s":"19","p":1.823,"m":18.377},{"s":"19","p":1.835,"m":18.357},{"s":"19","p":1.847,"m":18.367},{"s":"19","p":1.859,"m":18.346},{"s":"19","p":1.875,"m":18.336},{"s":"19","p":1.887,"m":18.326},{"s":"19","p":1.899,"m":18.315},{"s":"19","p":1.911,"m":18.301},{"s":"19","p":1.923,"m":18.291},{"s":"19","p":1.935,"m":18.284},{"s":"19","p":1.947,"m":18.281},{"s":"19","p":1.959,"m":18.277},{"s":"19","p":1.971,"m":18.274},{"s":"19","p":1.983,"m":18.274},{"s":"19","p":1.995,"m":18.274}
],
"g":[
{"s":"14","p":0,"m":19.103},{"s":"14","p":0.006,"m":19.108},{"s":"14","p":0.012,"m":19.11},{"s":"14","p":0.018,"m":19.116},{"s":"14","p":0.024,"m":19.119},{"s":"14","p":0.03,"m":19.126},{"s":"14","p":0.036,"m":19.13},{"s":"14","p":0.042,"m":19.135},{"s":"14","p":0.048,"m":19.142},{"s":"14","p":0.054,"m":19.146},{"s":"14","p":0.06,"m":19.15},{"s":"14","p":0.066,"m":19.16},{"s":"14","p":0.072,"m":19.17},{"s":"14","p":0.078,"m":19.176},{"s":"14","p":0.084,"m":19.185},{"s":"14","p":0.09,"m":19.19},{"s":"14","p":0.096,"m":19.197},{"s":"14","p":0.102,"m":19.204},{"s":"14","p":0.108,"m":19.209},{"s":"14","p":0.112,"m":19.222},{"s":"14","p":0.116,"m":19.232},{"s":"14","p":0.122,"m":19.238},{"s":"14","p":0.128,"m":19.244},{"s":"14","p":0.134,"m":19.25},{"s":"14","p":0.14,"m":19.256},{"s":"14","p":0.146,"m":19.265},{"s":"14","p":0.152,"m":19.272},{"s":"14","p":0.156,"m":19.278},{"s":"14","p":0.16,"m":19.283},{"s":"14","p":0.166,"m":19.29},{"s":"14","p":0.172,"m":19.295},{"s":"14","p":0.178,"m":19.297},{"s":"14","p":0.184,"m":19.299},{"s":"14","p":0.19,"m":19.3},{"s":"14","p":0.196,"m":19.303},{"s":"14","p":0.202,"m":19.298},{"s":"14","p":0.208,"m":19.299},{"s":"14","p":0.214,"m":19.305},{"s":"14","p":0.22,"m":19.303},{"s":"14","p":0.226,"m":19.296},{"s":"14","p":0.232,"m":19.299},{"s":"14","p":0.238,"m":19.302},{"s":"14","p":0.244,"m":19.295},{"s":"14","p":0.25,"m":19.3},{"s":"14","p":0.256,"m":19.299},{"s":"14","p":0.262,"m":19.292},{"s":"14","p":0.268,"m":19.295},{"s":"14","p":0.276,"m":19.279},{"s":"14","p":0.282,"m":19.29},{"s":"14","p":0.288,"m":19.299},{"s":"14","p":0.292,"m":19.264},{"s":"14","p":0.298,"m":19.258},{"s":"14","p":0.304,"m":19.248},{"s":"14","p":0.31,"m":19.245},{"s":"14","p":0.316,"m":19.24},{"s":"14","p":0.322,"m":19.238},{"s":"14","p":0.328,"m":19.236},{"s":"14","p":0.334,"m":19.228},{"s":"14","p":0.34,"m":19.221},{"s":"14","p":0.344,"m":19.205},{"s":"14","p":0.348,"m":19.193},{"s":"14","p":0.352,"m":19.18},{"s":"14","p":0.356,"m":19.17},{"s":"14","p":0.364,"m":19.16},{"s":"14","p":0.37,"m":19.152},{"s":"14","p":0.376,"m":19.146},{"s":"14","p":0.382,"m":19.134},{"s":"14","p":0.388,"m":19.123},{"s":"14","p":0.392,"m":19.112},{"s":"14","p":0.396,"m":19.103},{"s":"14","p":0.402,"m":19.093},{"s":"14","p":0.407,"m":19.083},{"s":"14","p":0.414,"m":19.072},{"s":"14","p":0.42,"m":19.06},{"s":"14","p":0.426,"m":19.05},{"s":"14","p":0.432,"m":19.04},{"s":"14","p":0.438,"m":19.036},{"s":"14","p":0.444,"m":19.032},{"s":"14","p":0.451,"m":19.013},{"s":"14","p":0.457,"m":19.003},{"s":"14","p":0.463,"m":18.993},{"s":"14","p":0.469,"m":18.983},{"s":"14","p":0.475,"m":18.973},{"s":"14","p":0.481,"m":18.968},{"s":"14","p":0.487,"m":18.962},{"s":"14","p":0.493,"m":18.958},{"s":"14","p":0.499,"m":18.954},{"s":"14","p":0.505,"m":18.95},{"s":"14","p":0.511,"m":18.946},{"s":"14","p":0.517,"m":18.944},{"s":"14","p":0.523,"m":18.942},{"s":"14","p":0.528,"m":18.936},{"s":"14","p":0.533,"m":18.93},{"s":"14","p":0.538,"m":18.936},{"s":"14","p":0.543,"m":18.942},{"s":"14","p":0.549,"m":18.944},{"s":"14","p":0.555,"m":18.946},{"s":"14","p":0.561,"m":18.95},{"s":"14","p":0.567,"m":18.958},{"s":"14","p":0.573,"m":18.965},{"s":"14","p":0.579,"m":18.977},{"s":"14","p":0.585,"m":18.988},{"s":"14","p":0.591,"m":19.001},{"s":"14","p":0.597,"m":18.992},{"s":"14","p":0.605,"m":18.997},{"s":"14","p":0.611,"m":19.001},{"s":"14","p":0.617,"m":19.015},{"s":"14","p":0.623,"m":19.028},{"s":"14","p":0.629,"m":19.036},{"s":"14","p":0.635,"m":19.044},{"s":"14","p":0.641,"m":19.056},{"s":"14","p":0.647,"m":19.068},{"s":"14","p":0.653,"m":19.075},{"s":"14","p":0.659,"m":19.083},{"s":"14","p":0.665,"m":19.091},{"s":"14","p":0.671,"m":19.099},{"s":"14","p":0.675,"m":19.11},{"s":"14","p":0.679,"m":19.119},{"s":"14","p":0.683,"m":19.125},{"s":"14","p":0.687,"m":19.13},{"s":"14","p":0.693,"m":19.142},{"s":"14","p":0.699,"m":19.154},{"s":"14","p":0.703,"m":19.164},{"s":"14","p":0.707,"m":19.173},{"s":"14","p":0.713,"m":19.175},{"s":"14","p":0.719,"m":19.177},{"s":"14","p":0.725,"m":19.183},{"s":"14","p":0.731,"m":19.189},{"s":"14","p":0.737,"m":19.193},{"s":"14","p":0.743,"m":19.197},{"s":"14","p":0.749,"m":19.199},{"s":"14","p":0.755,"m":19.201},{"s":"14","p":0.761,"m":19.203},{"s":"14","p":0.767,"m":19.205},{"s":"14","p":0.773,"m":19.21},{"s":"14","p":0.779,"m":19.213},{"s":"14","p":0.785,"m":19.211},{"s":"14","p":0.791,"m":19.209},{"s":"14","p":0.797,"m":19.207},{"s":"14","p":0.803,"m":19.205},{"s":"14","p":0.807,"m":19.197},{"s":"14","p":0.811,"m":19.189},{"s":"14","p":0.817,"m":19.18},{"s":"14","p":0.823,"m":19.17},{"s":"14","p":0.829,"m":19.164},{"s":"14","p":0.835,"m":19.158},{"s":"14","p":0.841,"m":19.152},{"s":"14","p":0.847,"m":19.146},{"s":"14","p":0.853,"m":19.14},{"s":"14","p":0.859,"m":19.134},{"s":"14","p":0.865,"m":19.128},{"s":"14","p":0.871,"m":19.123},{"s":"14","p":0.877,"m":19.119},{"s":"14","p":0.883,"m":19.115},{"s":"14","p":0.889,"m":19.109},{"s":"14","p":0.895,"m":19.103},{"s":"14","p":0.901,"m":19.095},{"s":"14","p":0.907,"m":19.087},{"s":"14","p":0.913,"m":19.083},{"s":"14","p":0.919,"m":19.079},{"s":"14","p":0.925,"m":19.077},{"s":"14","p":0.931,"m":19.075},{"s":"14","p":0.937,"m":19.076},{"s":"14","p":0.943,"m":19.075},{"s":"14","p":0.949,"m":19.073},{"s":"14","p":0.955,"m":19.072},{"s":"14","p":0.961,"m":19.076},{"s":"14","p":0.967,"m":19.079},{"s":"14","p":0.973,"m":19.081},{"s":"14","p":0.979,"m":19.083},{"s":"14","p":0.985,"m":19.085},{"s":"14","p":0.991,"m":19.087},{"s":"14","p":0.997,"m":19.095},
{"s":"14","p":1,"m":19.103},{"s":"14","p":1.006,"m":19.108},{"s":"14","p":1.012,"m":19.11},{"s":"14","p":1.018,"m":19.116},{"s":"14","p":1.024,"m":19.119},{"s":"14","p":1.03,"m":19.126},{"s":"14","p":1.036,"m":19.13},{"s":"14","p":1.042,"m":19.135},{"s":"14","p":1.048,"m":19.142},{"s":"14","p":1.054,"m":19.146},{"s":"14","p":1.06,"m":19.15},{"s":"14","p":1.066,"m":19.16},{"s":"14","p":1.072,"m":19.17},{"s":"14","p":1.078,"m":19.176},{"s":"14","p":1.084,"m":19.185},{"s":"14","p":1.09,"m":19.19},{"s":"14","p":1.096,"m":19.197},{"s":"14","p":1.102,"m":19.204},{"s":"14","p":1.108,"m":19.209},{"s":"14","p":1.112,"m":19.222},{"s":"14","p":1.116,"m":19.232},{"s":"14","p":1.122,"m":19.238},{"s":"14","p":1.128,"m":19.244},{"s":"14","p":1.134,"m":19.25},{"s":"14","p":1.14,"m":19.256},{"s":"14","p":1.146,"m":19.265},{"s":"14","p":1.152,"m":19.272},{"s":"14","p":1.156,"m":19.278},{"s":"14","p":1.16,"m":19.283},{"s":"14","p":1.166,"m":19.29},{"s":"14","p":1.172,"m":19.295},{"s":"14","p":1.178,"m":19.297},{"s":"14","p":1.184,"m":19.299},{"s":"14","p":1.19,"m":19.3},{"s":"14","p":1.196,"m":19.303},{"s":"14","p":1.202,"m":19.298},{"s":"14","p":1.208,"m":19.299},{"s":"14","p":1.214,"m":19.305},{"s":"14","p":1.22,"m":19.303},{"s":"14","p":1.226,"m":19.296},{"s":"14","p":1.232,"m":19.299},{"s":"14","p":1.238,"m":19.302},{"s":"14","p":1.244,"m":19.295},{"s":"14","p":1.25,"m":19.3},{"s":"14","p":1.256,"m":19.299},{"s":"14","p":1.262,"m":19.292},{"s":"14","p":1.268,"m":19.295},{"s":"14","p":1.276,"m":19.279},{"s":"14","p":1.282,"m":19.29},{"s":"14","p":1.288,"m":19.299},{"s":"14","p":1.292,"m":19.264},{"s":"14","p":1.298,"m":19.258},{"s":"14","p":1.304,"m":19.248},{"s":"14","p":1.31,"m":19.245},{"s":"14","p":1.316,"m":19.24},{"s":"14","p":1.322,"m":19.238},{"s":"14","p":1.328,"m":19.236},{"s":"14","p":1.334,"m":19.228},{"s":"14","p":1.34,"m":19.221},{"s":"14","p":1.344,"m":19.205},{"s":"14","p":1.348,"m":19.193},{"s":"14","p":1.352,"m":19.18},{"s":"14","p":1.356,"m":19.17},{"s":"14","p":1.364,"m":19.16},{"s":"14","p":1.37,"m":19.152},{"s":"14","p":1.376,"m":19.146},{"s":"14","p":1.382,"m":19.134},{"s":"14","p":1.388,"m":19.123},{"s":"14","p":1.392,"m":19.112},{"s":"14","p":1.396,"m":19.103},{"s":"14","p":1.402,"m":19.093},{"s":"14","p":1.407,"m":19.083},{"s":"14","p":1.414,"m":19.072},{"s":"14","p":1.42,"m":19.06},{"s":"14","p":1.426,"m":19.05},{"s":"14","p":1.432,"m":19.04},{"s":"14","p":1.438,"m":19.036},{"s":"14","p":1.444,"m":19.032},{"s":"14","p":1.451,"m":19.013},{"s":"14","p":1.457,"m":19.003},{"s":"14","p":1.463,"m":18.993},{"s":"14","p":1.469,"m":18.983},{"s":"14","p":1.475,"m":18.973},{"s":"14","p":1.481,"m":18.968},{"s":"14","p":1.487,"m":18.962},{"s":"14","p":1.493,"m":18.958},{"s":"14","p":1.499,"m":18.954},{"s":"14","p":1.505,"m":18.95},{"s":"14","p":1.511,"m":18.946},{"s":"14","p":1.517,"m":18.944},{"s":"14","p":1.523,"m":18.942},{"s":"14","p":1.528,"m":18.936},{"s":"14","p":1.533,"m":18.93},{"s":"14","p":1.538,"m":18.936},{"s":"14","p":1.543,"m":18.942},{"s":"14","p":1.549,"m":18.944},{"s":"14","p":1.555,"m":18.946},{"s":"14","p":1.561,"m":18.95},{"s":"14","p":1.567,"m":18.958},{"s":"14","p":1.573,"m":18.965},{"s":"14","p":1.579,"m":18.977},{"s":"14","p":1.585,"m":18.988},{"s":"14","p":1.591,"m":19.001},{"s":"14","p":1.597,"m":18.992},{"s":"14","p":1.605,"m":18.997},{"s":"14","p":1.611,"m":19.001},{"s":"14","p":1.617,"m":19.015},{"s":"14","p":1.623,"m":19.028},{"s":"14","p":1.629,"m":19.036},{"s":"14","p":1.635,"m":19.044},{"s":"14","p":1.641,"m":19.056},{"s":"14","p":1.647,"m":19.068},{"s":"14","p":1.653,"m":19.075},{"s":"14","p":1.659,"m":19.083},{"s":"14","p":1.665,"m":19.091},{"s":"14","p":1.671,"m":19.099},{"s":"14","p":1.675,"m":19.11},{"s":"14","p":1.679,"m":19.119},{"s":"14","p":1.683,"m":19.125},{"s":"14","p":1.687,"m":19.13},{"s":"14","p":1.693,"m":19.142},{"s":"14","p":1.699,"m":19.154},{"s":"14","p":1.703,"m":19.164},{"s":"14","p":1.707,"m":19.173},{"s":"14","p":1.713,"m":19.175},{"s":"14","p":1.719,"m":19.177},{"s":"14","p":1.725,"m":19.183},{"s":"14","p":1.731,"m":19.189},{"s":"14","p":1.737,"m":19.193},{"s":"14","p":1.743,"m":19.197},{"s":"14","p":1.749,"m":19.199},{"s":"14","p":1.755,"m":19.201},{"s":"14","p":1.761,"m":19.203},{"s":"14","p":1.767,"m":19.205},{"s":"14","p":1.773,"m":19.21},{"s":"14","p":1.779,"m":19.213},{"s":"14","p":1.785,"m":19.211},{"s":"14","p":1.791,"m":19.209},{"s":"14","p":1.797,"m":19.207},{"s":"14","p":1.803,"m":19.205},{"s":"14","p":1.807,"m":19.197},{"s":"14","p":1.811,"m":19.189},{"s":"14","p":1.817,"m":19.18},{"s":"14","p":1.823,"m":19.17},{"s":"14","p":1.829,"m":19.164},{"s":"14","p":1.835,"m":19.158},{"s":"14","p":1.841,"m":19.152},{"s":"14","p":1.847,"m":19.146},{"s":"14","p":1.853,"m":19.14},{"s":"14","p":1.859,"m":19.134},{"s":"14","p":1.865,"m":19.128},{"s":"14","p":1.871,"m":19.123},{"s":"14","p":1.877,"m":19.119},{"s":"14","p":1.883,"m":19.115},{"s":"14","p":1.889,"m":19.109},{"s":"14","p":1.895,"m":19.103},{"s":"14","p":1.901,"m":19.095},{"s":"14","p":1.907,"m":19.087},{"s":"14","p":1.913,"m":19.083},{"s":"14","p":1.919,"m":19.079},{"s":"14","p":1.925,"m":19.077},{"s":"14","p":1.931,"m":19.075},{"s":"14","p":1.937,"m":19.076},{"s":"14","p":1.943,"m":19.075},{"s":"14","p":1.949,"m":19.073},{"s":"14","p":1.955,"m":19.072},{"s":"14","p":1.961,"m":19.076},{"s":"14","p":1.967,"m":19.079},{"s":"14","p":1.973,"m":19.081},{"s":"14","p":1.979,"m":19.083},{"s":"14","p":1.985,"m":19.085},{"s":"14","p":1.991,"m":19.087},{"s":"14","p":1.997,"m":19.095},
{"s":"17","p":0.002,"m":18.985},{"s":"17","p":0.012,"m":19.005},{"s":"17","p":0.024,"m":19.017},{"s":"17","p":0.032,"m":19.028},{"s":"17","p":0.044,"m":19.04},{"s":"17","p":0.056,"m":19.072},{"s":"17","p":0.068,"m":19.091},{"s":"17","p":0.08,"m":19.107},{"s":"17","p":0.092,"m":19.135},{"s":"17","p":0.104,"m":19.17},{"s":"17","p":0.116,"m":19.185},{"s":"17","p":0.124,"m":19.197},{"s":"17","p":0.136,"m":19.213},{"s":"17","p":0.148,"m":19.224},{"s":"17","p":0.16,"m":19.24},{"s":"17","p":0.164,"m":19.17},{"s":"17","p":0.172,"m":19.252},{"s":"17","p":0.184,"m":19.264},{"s":"17","p":0.196,"m":19.268},{"s":"17","p":0.208,"m":19.272},{"s":"17","p":0.22,"m":19.268},{"s":"17","p":0.232,"m":19.272},{"s":"17","p":0.244,"m":19.275},{"s":"17","p":0.26,"m":19.268},{"s":"17","p":0.272,"m":19.256},{"s":"17","p":0.284,"m":19.248},{"s":"17","p":0.296,"m":19.232},{"s":"17","p":0.308,"m":19.224},{"s":"17","p":0.316,"m":19.213},{"s":"17","p":0.328,"m":19.189},{"s":"17","p":0.34,"m":19.173},{"s":"17","p":0.348,"m":19.15},{"s":"17","p":0.36,"m":19.138},{"s":"17","p":0.372,"m":19.123},{"s":"17","p":0.38,"m":19.103},{"s":"17","p":0.392,"m":19.075},{"s":"17","p":0.404,"m":19.056},{"s":"17","p":0.416,"m":19.028},{"s":"17","p":0.428,"m":19.005},{"s":"17","p":0.436,"m":18.997},{"s":"17","p":0.448,"m":18.973},{"s":"17","p":0.459,"m":18.954},{"s":"17","p":0.471,"m":18.938},{"s":"17","p":0.483,"m":18.926},{"s":"17","p":0.499,"m":18.919},{"s":"17","p":0.511,"m":18.915},{"s":"17","p":0.523,"m":18.911},{"s":"17","p":0.535,"m":18.907},{"s":"17","p":0.547,"m":18.909},{"s":"17","p":0.559,"m":18.911},{"s":"17","p":0.571,"m":18.915},{"s":"17","p":0.583,"m":18.922},{"s":"17","p":0.595,"m":18.934},{"s":"17","p":0.607,"m":18.942},{"s":"17","p":0.619,"m":18.954},{"s":"17","p":0.635,"m":18.966},{"s":"17","p":0.651,"m":18.973},{"s":"17","p":0.663,"m":18.989},{"s":"17","p":0.675,"m":18.997},{"s":"17","p":0.687,"m":19.009},{"s":"17","p":0.699,"m":19.017},{"s":"17","p":0.711,"m":19.021},{"s":"17","p":0.723,"m":19.028},{"s":"17","p":0.735,"m":19.056},{"s":"17","p":0.747,"m":19.048},{"s":"17","p":0.759,"m":19.044},{"s":"17","p":0.771,"m":19.044},{"s":"17","p":0.783,"m":19.048},{"s":"17","p":0.795,"m":19.048},{"s":"17","p":0.803,"m":19.036},{"s":"17","p":0.815,"m":19.028},{"s":"17","p":0.827,"m":19.024},{"s":"17","p":0.839,"m":19.017},{"s":"17","p":0.851,"m":19.009},{"s":"17","p":0.863,"m":19.001},{"s":"17","p":0.875,"m":18.989},{"s":"17","p":0.887,"m":18.977},{"s":"17","p":0.899,"m":18.966},{"s":"17","p":0.911,"m":18.958},{"s":"17","p":0.923,"m":18.95},{"s":"17","p":0.935,"m":18.946},{"s":"17","p":0.947,"m":18.946},{"s":"17","p":0.959,"m":18.948},{"s":"17","p":0.971,"m":18.954},{"s":"17","p":0.983,"m":18.97},{"s":"17","p":0.995,"m":18.977},
{"s":"17","p":1.002,"m":18.985},{"s":"17","p":1.012,"m":19.005},{"s":"17","p":1.024,"m":19.017},{"s":"17","p":1.032,"m":19.028},{"s":"17","p":1.044,"m":19.04},{"s":"17","p":1.056,"m":19.072},{"s":"17","p":1.068,"m":19.091},{"s":"17","p":1.08,"m":19.107},{"s":"17","p":1.092,"m":19.135},{"s":"17","p":1.104,"m":19.17},{"s":"17","p":1.116,"m":19.185},{"s":"17","p":1.124,"m":19.197},{"s":"17","p":1.136,"m":19.213},{"s":"17","p":1.148,"m":19.224},{"s":"17","p":1.16,"m":19.24},{"s":"17","p":1.164,"m":19.17},{"s":"17","p":1.172,"m":19.252},{"s":"17","p":1.184,"m":19.264},{"s":"17","p":1.196,"m":19.268},{"s":"17","p":1.208,"m":19.272},{"s":"17","p":1.22,"m":19.268},{"s":"17","p":1.232,"m":19.272},{"s":"17","p":1.244,"m":19.275},{"s":"17","p":1.26,"m":19.268},{"s":"17","p":1.272,"m":19.256},{"s":"17","p":1.284,"m":19.248},{"s":"17","p":1.296,"m":19.232},{"s":"17","p":1.308,"m":19.224},{"s":"17","p":1.316,"m":19.213},{"s":"17","p":1.328,"m":19.189},{"s":"17","p":1.34,"m":19.173},{"s":"17","p":1.348,"m":19.15},{"s":"17","p":1.36,"m":19.138},{"s":"17","p":1.372,"m":19.123},{"s":"17","p":1.38,"m":19.103},{"s":"17","p":1.392,"m":19.075},{"s":"17","p":1.404,"m":19.056},{"s":"17","p":1.416,"m":19.028},{"s":"17","p":1.428,"m":19.005},{"s":"17","p":1.436,"m":18.997},{"s":"17","p":1.448,"m":18.973},{"s":"17","p":1.459,"m":18.954},{"s":"17","p":1.471,"m":18.938},{"s":"17","p":1.483,"m":18.926},{"s":"17","p":1.499,"m":18.919},{"s":"17","p":1.511,"m":18.915},{"s":"17","p":1.523,"m":18.911},{"s":"17","p":1.535,"m":18.907},{"s":"17","p":1.547,"m":18.909},{"s":"17","p":1.559,"m":18.911},{"s":"17","p":1.571,"m":18.915},{"s":"17","p":1.583,"m":18.922},{"s":"17","p":1.595,"m":18.934},{"s":"17","p":1.607,"m":18.942},{"s":"17","p":1.619,"m":18.954},{"s":"17","p":1.635,"m":18.966},{"s":"17","p":1.651,"m":18.973},{"s":"17","p":1.663,"m":18.989},{"s":"17","p":1.675,"m":18.997},{"s":"17","p":1.687,"m":19.009},{"s":"17","p":1.699,"m":19.017},{"s":"17","p":1.711,"m":19.021},{"s":"17","p":1.723,"m":19.028},{"s":"17","p":1.735,"m":19.056},{"s":"17","p":1.747,"m":19.048},{"s":"17","p":1.759,"m":19.044},{"s":"17","p":1.771,"m":19.044},{"s":"17","p":1.783,"m":19.048},{"s":"17","p":1.795,"m":19.048},{"s":"17","p":1.803,"m":19.036},{"s":"17","p":1.815,"m":19.028},{"s":"17","p":1.827,"m":19.024},{"s":"17","p":1.839,"m":19.017},{"s":"17","p":1.851,"m":19.009},{"s":"17","p":1.863,"m":19.001},{"s":"17","p":1.875,"m":18.989},{"s":"17","p":1.887,"m":18.977},{"s":"17","p":1.899,"m":18.966},{"s":"17","p":1.911,"m":18.958},{"s":"17","p":1.923,"m":18.95},{"s":"17","p":1.935,"m":18.946},{"s":"17","p":1.947,"m":18.946},{"s":"17","p":1.959,"m":18.948},{"s":"17","p":1.971,"m":18.954},{"s":"17","p":1.983,"m":18.97},{"s":"17","p":1.995,"m":18.977},
{"s":"18","p":0.004,"m":19.056},{"s":"18","p":0.012,"m":19.064},{"s":"18","p":0.02,"m":19.087},{"s":"18","p":0.032,"m":19.095},{"s":"18","p":0.048,"m":19.099},{"s":"18","p":0.06,"m":19.123},{"s":"18","p":0.072,"m":19.126},{"s":"18","p":0.084,"m":19.123},{"s":"18","p":0.096,"m":19.13},{"s":"18","p":0.108,"m":19.138},{"s":"18","p":0.12,"m":19.146},{"s":"18","p":0.132,"m":19.158},{"s":"18","p":0.144,"m":19.162},{"s":"18","p":0.156,"m":19.181},{"s":"18","p":0.168,"m":19.185},{"s":"18","p":0.18,"m":19.185},{"s":"18","p":0.192,"m":19.181},{"s":"18","p":0.204,"m":19.181},{"s":"18","p":0.216,"m":19.177},{"s":"18","p":0.224,"m":19.217},{"s":"18","p":0.236,"m":19.213},{"s":"18","p":0.248,"m":19.209},{"s":"18","p":0.26,"m":19.201},{"s":"18","p":0.272,"m":19.205},{"s":"18","p":0.28,"m":19.213},{"s":"18","p":0.292,"m":19.185},{"s":"18","p":0.304,"m":19.15},{"s":"18","p":0.316,"m":19.146},{"s":"18","p":0.328,"m":19.138},{"s":"18","p":0.34,"m":19.13},{"s":"18","p":0.352,"m":19.095},{"s":"18","p":0.364,"m":19.072},{"s":"18","p":0.376,"m":19.06},{"s":"18","p":0.388,"m":19.052},{"s":"18","p":0.396,"m":19.028},{"s":"18","p":0.407,"m":19.005},{"s":"18","p":0.42,"m":18.985},{"s":"18","p":0.432,"m":18.977},{"s":"18","p":0.444,"m":18.95},{"s":"18","p":0.456,"m":18.938},{"s":"18","p":0.467,"m":18.93},{"s":"18","p":0.479,"m":18.903},{"s":"18","p":0.491,"m":18.899},{"s":"18","p":0.503,"m":18.891},{"s":"18","p":0.515,"m":18.887},{"s":"18","p":0.527,"m":18.891},{"s":"18","p":0.539,"m":18.883},{"s":"18","p":0.555,"m":18.868},{"s":"18","p":0.567,"m":18.887},{"s":"18","p":0.579,"m":18.895},{"s":"18","p":0.591,"m":18.915},{"s":"18","p":0.599,"m":18.922},{"s":"18","p":0.611,"m":18.934},{"s":"18","p":0.623,"m":18.966},{"s":"18","p":0.639,"m":18.977},{"s":"18","p":0.651,"m":19.001},{"s":"18","p":0.663,"m":19.009},{"s":"18","p":0.675,"m":19.04},{"s":"18","p":0.687,"m":19.048},{"s":"18","p":0.699,"m":19.068},{"s":"18","p":0.711,"m":19.087},{"s":"18","p":0.723,"m":19.083},{"s":"18","p":0.739,"m":19.138},{"s":"18","p":0.751,"m":19.134},{"s":"18","p":0.763,"m":19.15},{"s":"18","p":0.775,"m":19.158},{"s":"18","p":0.787,"m":19.162},{"s":"18","p":0.799,"m":19.166},{"s":"18","p":0.811,"m":19.158},{"s":"18","p":0.823,"m":19.146},{"s":"18","p":0.835,"m":19.138},{"s":"18","p":0.847,"m":19.13},{"s":"18","p":0.859,"m":19.123},{"s":"18","p":0.871,"m":19.111},{"s":"18","p":0.883,"m":19.099},{"s":"18","p":0.895,"m":19.095},{"s":"18","p":0.907,"m":19.087},{"s":"18","p":0.919,"m":19.079},{"s":"18","p":0.931,"m":19.079},{"s":"18","p":0.943,"m":19.075},{"s":"18","p":0.955,"m":19.068},{"s":"18","p":0.97,"m":19.028},{"s":"18","p":0.983,"m":19.032},{"s":"18","p":0.995,"m":19.06},
{"s":"18","p":1.004,"m":19.056},{"s":"18","p":1.012,"m":19.064},{"s":"18","p":1.02,"m":19.087},{"s":"18","p":1.032,"m":19.095},{"s":"18","p":1.048,"m":19.099},{"s":"18","p":1.06,"m":19.123},{"s":"18","p":1.072,"m":19.126},{"s":"18","p":1.084,"m":19.123},{"s":"18","p":1.096,"m":19.13},{"s":"18","p":1.108,"m":19.138},{"s":"18","p":1.12,"m":19.146},{"s":"18","p":1.132,"m":19.158},{"s":"18","p":1.144,"m":19.162},{"s":"18","p":1.156,"m":19.181},{"s":"18","p":1.168,"m":19.185},{"s":"18","p":1.18,"m":19.185},{"s":"18","p":1.192,"m":19.181},{"s":"18","p":1.204,"m":19.181},{"s":"18","p":1.216,"m":19.177},{"s":"18","p":1.224,"m":19.217},{"s":"18","p":1.236,"m":19.213},{"s":"18","p":1.248,"m":19.209},{"s":"18","p":1.26,"m":19.201},{"s":"18","p":1.272,"m":19.205},{"s":"18","p":1.28,"m":19.213},{"s":"18","p":1.292,"m":19.185},{"s":"18","p":1.304,"m":19.15},{"s":"18","p":1.316,"m":19.146},{"s":"18","p":1.328,"m":19.138},{"s":"18","p":1.34,"m":19.13},{"s":"18","p":1.352,"m":19.095},{"s":"18","p":1.364,"m":19.072},{"s":"18","p":1.376,"m":19.06},{"s":"18","p":1.388,"m":19.052},{"s":"18","p":1.396,"m":19.028},{"s":"18","p":1.407,"m":19.005},{"s":"18","p":1.42,"m":18.985},{"s":"18","p":1.432,"m":18.977},{"s":"18","p":1.444,"m":18.95},{"s":"18","p":1.456,"m":18.938},{"s":"18","p":1.467,"m":18.93},{"s":"18","p":1.479,"m":18.903},{"s":"18","p":1.491,"m":18.899},{"s":"18","p":1.503,"m":18.891},{"s":"18","p":1.515,"m":18.887},{"s":"18","p":1.527,"m":18.891},{"s":"18","p":1.539,"m":18.883},{"s":"18","p":1.555,"m":18.868},{"s":"18","p":1.567,"m":18.887},{"s":"18","p":1.579,"m":18.895},{"s":"18","p":1.591,"m":18.915},{"s":"18","p":1.599,"m":18.922},{"s":"18","p":1.611,"m":18.934},{"s":"18","p":1.623,"m":18.966},{"s":"18","p":1.639,"m":18.977},{"s":"18","p":1.651,"m":19.001},{"s":"18","p":1.663,"m":19.009},{"s":"18","p":1.675,"m":19.04},{"s":"18","p":1.687,"m":19.048},{"s":"18","p":1.699,"m":19.068},{"s":"18","p":1.711,"m":19.087},{"s":"18","p":1.723,"m":19.083},{"s":"18","p":1.739,"m":19.138},{"s":"18","p":1.751,"m":19.134},{"s":"18","p":1.763,"m":19.15},{"s":"18","p":1.775,"m":19.158},{"s":"18","p":1.787,"m":19.162},{"s":"18","p":1.799,"m":19.166},{"s":"18","p":1.811,"m":19.158},{"s":"18","p":1.823,"m":19.146},{"s":"18","p":1.835,"m":19.138},{"s":"18","p":1.847,"m":19.13},{"s":"18","p":1.859,"m":19.123},{"s":"18","p":1.871,"m":19.111},{"s":"18","p":1.883,"m":19.099},{"s":"18","p":1.895,"m":19.095},{"s":"18","p":1.907,"m":19.087},{"s":"18","p":1.919,"m":19.079},{"s":"18","p":1.931,"m":19.079},{"s":"18","p":1.943,"m":19.075},{"s":"18","p":1.955,"m":19.068},{"s":"18","p":1.97,"m":19.028},{"s":"18","p":1.983,"m":19.032},{"s":"18","p":1.995,"m":19.06},
{"s":"19","p":0.002,"m":19.123},{"s":"19","p":0.016,"m":19.138},{"s":"19","p":0.028,"m":19.146},{"s":"19","p":0.04,"m":19.158},{"s":"19","p":0.052,"m":19.17},{"s":"19","p":0.064,"m":19.189},{"s":"19","p":0.076,"m":19.201},{"s":"19","p":0.088,"m":19.24},{"s":"19","p":0.1,"m":19.252},{"s":"19","p":0.112,"m":19.264},{"s":"19","p":0.124,"m":19.275},{"s":"19","p":0.136,"m":19.283},{"s":"19","p":0.148,"m":19.291},{"s":"19","p":0.156,"m":19.299},{"s":"19","p":0.144,"m":19.334},{"s":"19","p":0.172,"m":19.334},{"s":"19","p":0.184,"m":19.338},{"s":"19","p":0.196,"m":19.366},{"s":"19","p":0.208,"m":19.373},{"s":"19","p":0.22,"m":19.381},{"s":"19","p":0.232,"m":19.385},{"s":"19","p":0.244,"m":19.381},{"s":"19","p":0.256,"m":19.385},{"s":"19","p":0.268,"m":19.37},{"s":"19","p":0.276,"m":19.354},{"s":"19","p":0.288,"m":19.338},{"s":"19","p":0.3,"m":19.323},{"s":"19","p":0.312,"m":19.315},{"s":"19","p":0.324,"m":19.299},{"s":"19","p":0.336,"m":19.291},{"s":"19","p":0.348,"m":19.272},{"s":"19","p":0.356,"m":19.232},{"s":"19","p":0.368,"m":19.252},{"s":"19","p":0.384,"m":19.221},{"s":"19","p":0.396,"m":19.213},{"s":"19","p":0.398,"m":19.158},{"s":"19","p":0.412,"m":19.15},{"s":"19","p":0.424,"m":19.107},
{"s":"19","p":0.723,"m":19.236},{"s":"19","p":0.735,"m":19.24},{"s":"19","p":0.747,"m":19.248},{"s":"19","p":0.759,"m":19.256},{"s":"19","p":0.771,"m":19.264},{"s":"19","p":0.783,"m":19.268},{"s":"19","p":0.795,"m":19.26},{"s":"19","p":0.807,"m":19.248},{"s":"19","p":0.823,"m":19.236},{"s":"19","p":0.827,"m":19.213},{"s":"19","p":0.839,"m":19.205},{"s":"19","p":0.851,"m":19.193},{"s":"19","p":0.863,"m":19.189},{"s":"19","p":0.875,"m":19.181},{"s":"19","p":0.887,"m":19.177},{"s":"19","p":0.895,"m":19.154},{"s":"19","p":0.907,"m":19.146},{"s":"19","p":0.919,"m":19.134},{"s":"19","p":0.931,"m":19.123},{"s":"19","p":0.943,"m":19.115},{"s":"19","p":0.955,"m":19.111},{"s":"19","p":0.967,"m":19.107},{"s":"19","p":0.978,"m":19.103},{"s":"19","p":0.99,"m":19.111},
{"s":"19","p":1.002,"m":19.123},{"s":"19","p":1.016,"m":19.138},{"s":"19","p":1.028,"m":19.146},{"s":"19","p":1.04,"m":19.158},{"s":"19","p":1.052,"m":19.17},{"s":"19","p":1.064,"m":19.189},{"s":"19","p":1.076,"m":19.201},{"s":"19","p":1.088,"m":19.24},{"s":"19","p":1.1,"m":19.252},{"s":"19","p":1.112,"m":19.264},{"s":"19","p":1.124,"m":19.275},{"s":"19","p":1.136,"m":19.283},{"s":"19","p":1.148,"m":19.291},{"s":"19","p":1.156,"m":19.299},{"s":"19","p":1.144,"m":19.334},{"s":"19","p":1.172,"m":19.334},{"s":"19","p":1.184,"m":19.338},{"s":"19","p":1.196,"m":19.366},{"s":"19","p":1.208,"m":19.373},{"s":"19","p":1.22,"m":19.381},{"s":"19","p":1.232,"m":19.385},{"s":"19","p":1.244,"m":19.381},{"s":"19","p":1.256,"m":19.385},{"s":"19","p":1.268,"m":19.37},{"s":"19","p":1.276,"m":19.354},{"s":"19","p":1.288,"m":19.338},{"s":"19","p":1.3,"m":19.323},{"s":"19","p":1.312,"m":19.315},{"s":"19","p":1.324,"m":19.299},{"s":"19","p":1.336,"m":19.291},{"s":"19","p":1.348,"m":19.272},{"s":"19","p":1.356,"m":19.232},{"s":"19","p":1.368,"m":19.252},{"s":"19","p":1.384,"m":19.221},{"s":"19","p":1.396,"m":19.213},{"s":"19","p":1.398,"m":19.158},{"s":"19","p":1.412,"m":19.15},{"s":"19","p":1.424,"m":19.107},
{"s":"19","p":1.723,"m":19.236},{"s":"19","p":1.735,"m":19.24},{"s":"19","p":1.747,"m":19.248},{"s":"19","p":1.759,"m":19.256},{"s":"19","p":1.771,"m":19.264},{"s":"19","p":1.783,"m":19.268},{"s":"19","p":1.795,"m":19.26},{"s":"19","p":1.807,"m":19.248},{"s":"19","p":1.823,"m":19.236},{"s":"19","p":1.827,"m":19.213},{"s":"19","p":1.839,"m":19.205},{"s":"19","p":1.851,"m":19.193},{"s":"19","p":1.863,"m":19.189},{"s":"19","p":1.875,"m":19.181},{"s":"19","p":1.887,"m":19.177},{"s":"19","p":1.895,"m":19.154},{"s":"19","p":1.907,"m":19.146},{"s":"19","p":1.919,"m":19.134},{"s":"19","p":1.931,"m":19.123},{"s":"19","p":1.943,"m":19.115},{"s":"19","p":1.955,"m":19.111},{"s":"19","p":1.967,"m":19.107},{"s":"19","p":1.978,"m":19.103},{"s":"19","p":1.99,"m":19.111}
]
},
"vconcat":[
 {"width":1972,"height":13,"data":{"values":[]},"mark":{"type":"point","opacity":0},"view":{"fill":"#0a0b1f","stroke":null}},
 {"vconcat":[
 {"hconcat":[
  {"width":28,"height":1477,"data":{"values":[]},"mark":{"type":"point","opacity":0},"view":{"stroke":null,"fill":{"gradient":"linear","x1":0,"y1":0,"x2":0,"y2":1,"stops":[{"offset":0,"color":"#0e1029"},{"offset":0.45,"color":"#2a2c4b"},{"offset":1,"color":"#5f6180"}]}}},
  {"vconcat":[
   {"width":1670,"height":635,
    "layer":[
     {"data":{"name":"ie"},"mark":{"type":"rule","clip":true,"strokeWidth":2.5},
      "encoding":{
       "x":{"field":"p","type":"quantitative","scale":{"domain":[0,2],"nice":false,"zero":false},"axis":null},
       "y":{"field":"lo","type":"quantitative","scale":{"domain":[17.9896,18.6469],"reverse":true,"nice":false,"zero":false},"axis":{"values":[18.0,18.2,18.4,18.6],"format":".1f","title":"iₛ magnitude","minExtent":138,"maxExtent":138,"titlePadding":20,"labelPadding":15}},
       "y2":{"field":"hi"},
       "color":{"condition":{"test":"datum.s=='17'","value":"#9fc3dc"},"value":"#505050"}}},
     {"data":{"name":"i"},"mark":{"type":"point","clip":true,"opacity":1,"strokeWidth":2},
      "encoding":{
       "x":{"field":"p","type":"quantitative","scale":{"domain":[0,2],"nice":false,"zero":false},"axis":null},
       "y":{"field":"m","type":"quantitative","scale":{"domain":[17.9896,18.6469],"reverse":true,"nice":false,"zero":false},"axis":{"values":[18.0,18.2,18.4,18.6],"format":".1f","title":"iₛ magnitude","minExtent":138,"maxExtent":138,"titlePadding":20,"labelPadding":15}},
       "fill":{"field":"s","type":"nominal","scale":{"domain":["14","17","18","19"],"range":["#e8161b","transparent","#f5661a","#000000"]},"legend":{"title":null,"labelExpr":"datum.label == '14' ? '2014 (GROND)' : '20' + datum.label + ' (ULTRACAM)'"}},
       "stroke":{"field":"s","type":"nominal","scale":{"domain":["14","17","18","19"],"range":["#e8161b","#3b8de0","#f5661a","#000000"]},"legend":{"title":null,"labelExpr":"datum.label == '14' ? '2014 (GROND)' : '20' + datum.label + ' (ULTRACAM)'"}},
       "shape":{"field":"s","type":"nominal","scale":{"domain":["14","17","18","19"],"range":["triangle-up","circle","square","diamond"]},"legend":{"title":null,"labelExpr":"datum.label == '14' ? '2014 (GROND)' : '20' + datum.label + ' (ULTRACAM)'"}},
       "size":{"field":"s","type":"nominal","scale":{"type":"ordinal","domain":["14","17","18","19"],"range":[180,120,110,210]},"legend":{"title":null,"labelExpr":"datum.label == '14' ? '2014 (GROND)' : '20' + datum.label + ' (ULTRACAM)'"}}}}
    ]},
   {"width":1670,"height":638,
    "layer":[
     {"data":{"name":"ge"},"mark":{"type":"rule","clip":true,"strokeWidth":2.5},
      "encoding":{
       "x":{"field":"p","type":"quantitative","scale":{"domain":[0,2],"nice":false,"zero":false},"axis":{"values":[0,0.25,0.5,0.75,1,1.25,1.5,1.75,2],"format":".2f","title":"Orbital Phase","titleFontSize":62,"labelPadding":8,"titlePadding":1}},
       "y":{"field":"lo","type":"quantitative","scale":{"domain":[18.732,19.4817],"reverse":true,"nice":false,"zero":false},"axis":{"values":[18.8,19.0,19.2,19.4],"format":".1f","title":"gₛ magnitude","minExtent":138,"maxExtent":138,"titlePadding":20,"labelPadding":15}},
       "y2":{"field":"hi"},
       "color":{"condition":{"test":"datum.s=='17'","value":"#9fc3dc"},"value":"#7a7a7a"}}},
     {"data":{"name":"g"},"mark":{"type":"point","clip":true,"opacity":1,"strokeWidth":2},
      "encoding":{
       "x":{"field":"p","type":"quantitative","scale":{"domain":[0,2],"nice":false,"zero":false},"axis":{"values":[0,0.25,0.5,0.75,1,1.25,1.5,1.75,2],"format":".2f","title":"Orbital Phase","titleFontSize":62,"labelPadding":8,"titlePadding":1}},
       "y":{"field":"m","type":"quantitative","scale":{"domain":[18.732,19.4817],"reverse":true,"nice":false,"zero":false},"axis":{"values":[18.8,19.0,19.2,19.4],"format":".1f","title":"gₛ magnitude","minExtent":138,"maxExtent":138,"titlePadding":20,"labelPadding":15}},
       "fill":{"field":"s","type":"nominal","scale":{"domain":["14","17","18","19"],"range":["#e8161b","transparent","#f5661a","#000000"]},"legend":{"title":null,"labelExpr":"datum.label == '14' ? '2014 (GROND)' : '20' + datum.label + ' (ULTRACAM)'"}},
       "stroke":{"field":"s","type":"nominal","scale":{"domain":["14","17","18","19"],"range":["#e8161b","#3b8de0","#f5661a","#000000"]},"legend":{"title":null,"labelExpr":"datum.label == '14' ? '2014 (GROND)' : '20' + datum.label + ' (ULTRACAM)'"}},
       "shape":{"field":"s","type":"nominal","scale":{"domain":["14","17","18","19"],"range":["triangle-up","circle","square","diamond"]},"legend":{"title":null,"labelExpr":"datum.label == '14' ? '2014 (GROND)' : '20' + datum.label + ' (ULTRACAM)'"}},
       "size":{"field":"s","type":"nominal","scale":{"type":"ordinal","domain":["14","17","18","19"],"range":[180,120,110,210]},"legend":{"title":null,"labelExpr":"datum.label == '14' ? '2014 (GROND)' : '20' + datum.label + ' (ULTRACAM)'"}}}}
    ]}
  ],"spacing":30}
 ],"spacing":-9},
 {"width":1972,"height":12,"data":{"values":[]},"mark":{"type":"point","opacity":0},"view":{"fill":"#5d5f7d","stroke":null}}
 ],"spacing":-10}
],
"spacing":-6
}
